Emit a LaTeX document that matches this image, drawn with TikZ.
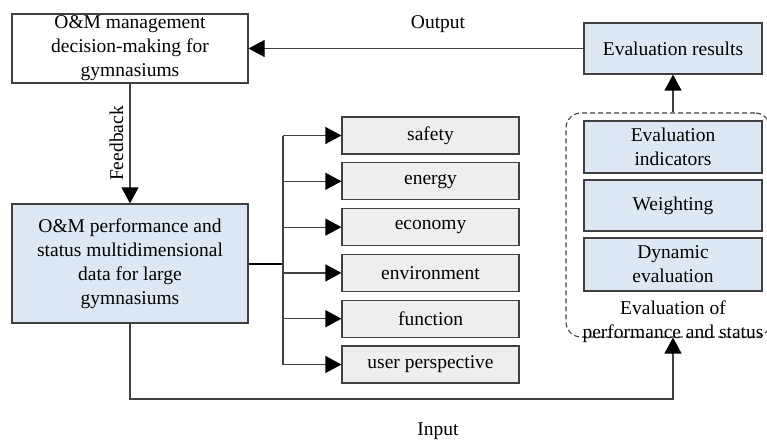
\documentclass[tikz,border=0pt]{standalone}
\usepackage{fontspec}
\setmainfont{Liberation Serif}
\usetikzlibrary{arrows.meta}
\definecolor{bluefill}{HTML}{DEE8F4}
\definecolor{grayfill}{HTML}{EEEEEE}
\definecolor{edge}{HTML}{404040}
\begin{document}
\begin{tikzpicture}[x=1pt,y=-1pt,
  font=\rmfamily\fontsize{19.5}{24}\selectfont,
  box/.style={draw=edge,line width=1.2pt,align=center,inner sep=0pt,text=black},
  whitebox/.style={box,fill=white},
  bluebox/.style={box,fill=bluefill},
  catbox/.style={box,fill=grayfill,minimum width=177pt,minimum height=37pt},
  evbox/.style={box,fill=bluefill,minimum width=178pt},
  conn/.style={draw=edge,line width=1.2pt},
  arr/.style={conn,-{Triangle[length=16pt,width=17pt,black]}}]
\useasboundingbox (0,0) rectangle (767,441);
% main boxes
\node[whitebox,minimum width=236pt,minimum height=69pt] (dec) at (130,48.5)
  {O\&M management\\decision-making for\\gymnasiums};
\node[bluebox,minimum width=236pt,minimum height=119pt] (data) at (130,263.5)
  {O\&M performance and\\status multidimensional\\data for large\\gymnasiums};
% categories
\node[catbox] (c1) at (430.5,135.5) {safety};
\node[catbox] (c2) at (430.5,181.3) {energy};
\node[catbox] (c3) at (430.5,227.1) {economy};
\node[catbox] (c4) at (430.5,272.9) {environment};
\node[catbox] (c5) at (430.5,318.7) {function};
\node[catbox] (c6) at (430.5,364.5) {user perspective};
% evaluation group
\node[draw=edge,line width=1.1pt,dash pattern=on 5pt off 3pt,rounded corners=15pt,
  minimum width=204pt,minimum height=224pt,inner sep=0pt] (grp) at (668,225) {};
\node[evbox,minimum height=51pt] (res) at (673,48.5) {Evaluation results};
\node[evbox,minimum height=52pt] (ind) at (673,147) {Evaluation\\indicators};
\node[evbox,minimum height=51pt] (wei) at (673,205.5) {Weighting};
\node[evbox,minimum height=53pt] (dyn) at (673,264.5) {Dynamic\\evaluation};
\node[align=center,inner sep=0pt] (grplbl) at (673,322) {Evaluation of\\performance and status};
% branch
\coordinate (bj) at (283,263.5);
\coordinate (btop) at (283,135.5);
\coordinate (bbot) at (283,364.5);
\draw[draw=black,line width=2pt] (data.east) -- (bj);
\draw[conn] (btop) -- (bbot);
\foreach \c in {c1,c2,c3,c4,c5,c6}{
  \draw[arr] (btop |- \c.west) -- (\c.west);
}
% feedback
\draw[arr] (dec.south) -- (data.north);
\node[rotate=90,inner sep=0pt] (fb) at (116.5,143.5) {Feedback};
% output
\draw[arr] (res.west) -- (dec.east);
\node[inner sep=0pt] (out) at (438,24) {Output};
% input
\coordinate (in1) at (130,399);
\coordinate (in2) at (673,399);
\draw[arr] (data.south) -- (in1) -- (in2) -- (res.south |- grp.south);
\node[inner sep=0pt] (inp) at (438,431) {Input};
% group to results
\draw[arr] (res.south |- grp.north) -- (res.south);
\end{tikzpicture}
\end{document}
